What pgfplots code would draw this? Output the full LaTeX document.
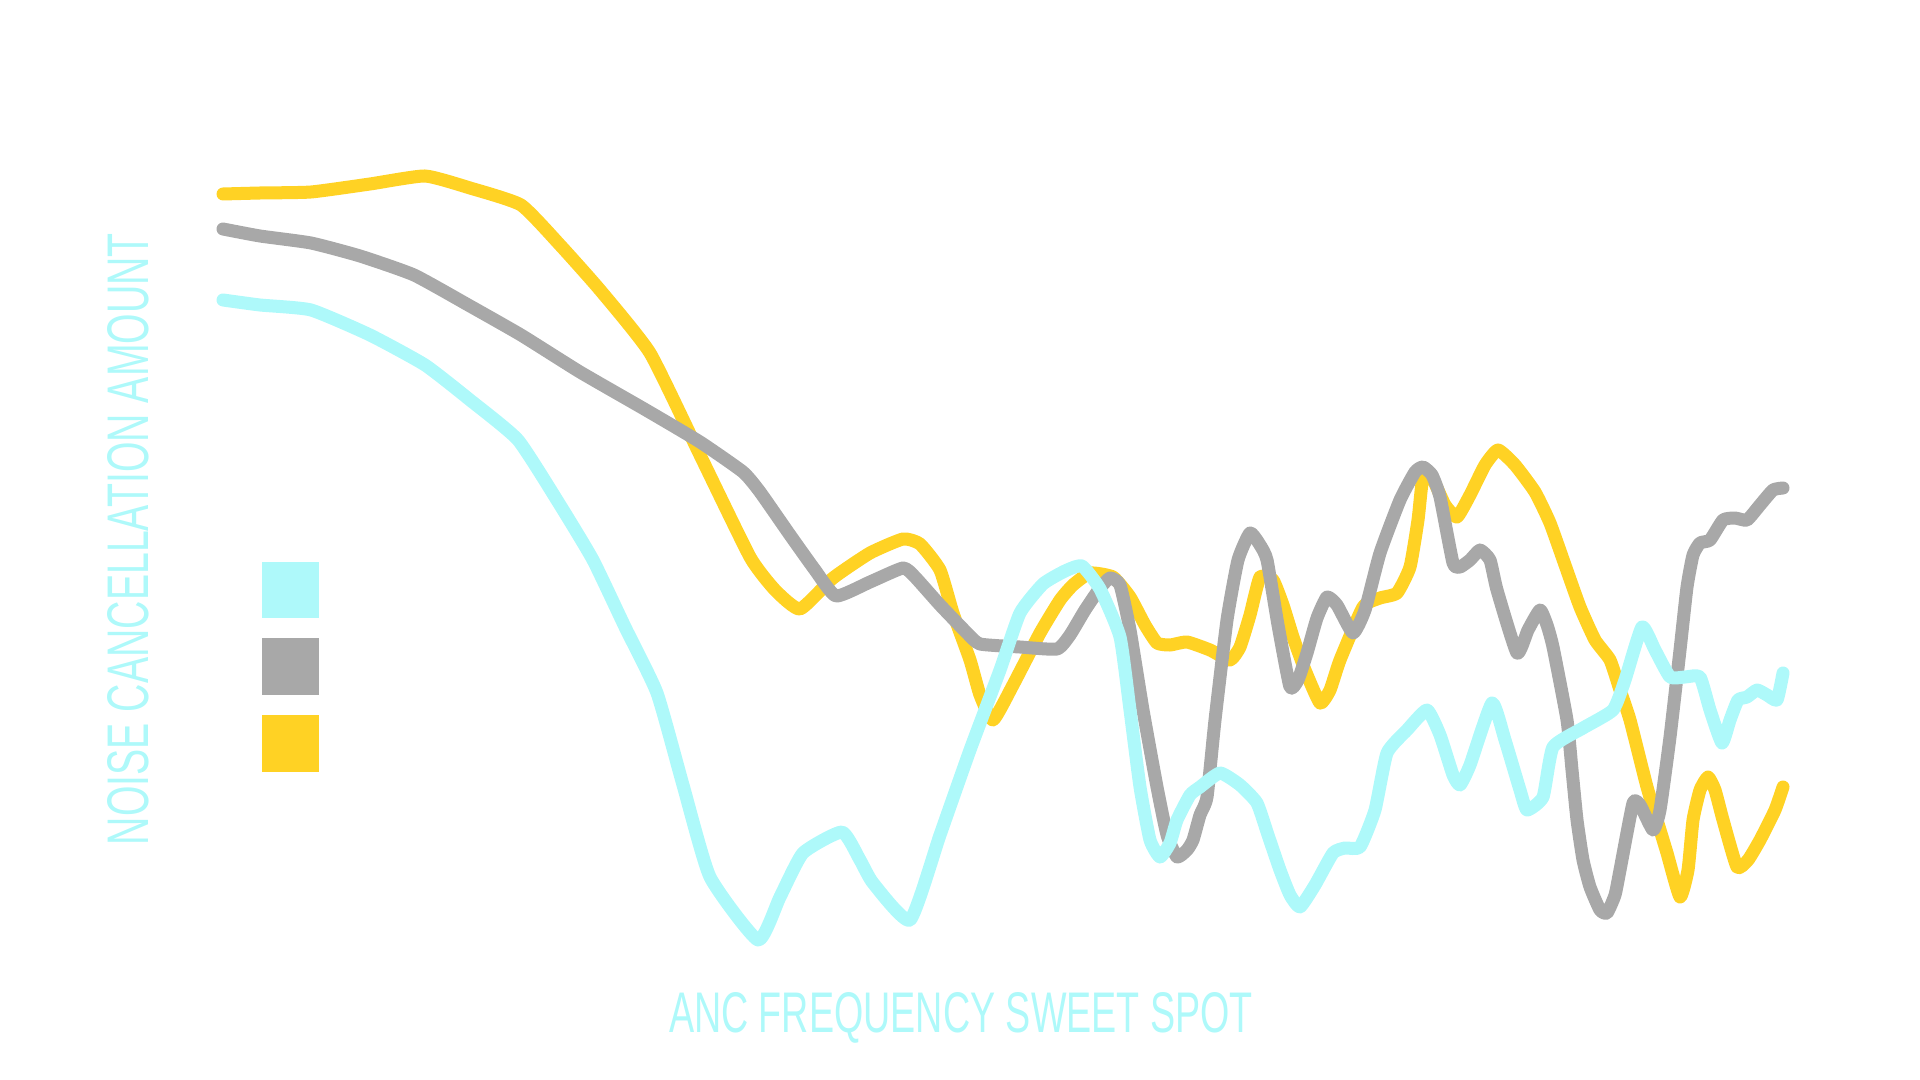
\documentclass[border=0pt]{standalone}
\usepackage{pgfplots}
\usepackage{fontspec}
\setmainfont{Liberation Sans}
\pgfplotsset{compat=1.18}

\definecolor{anccyan}{RGB}{174,249,250}
\definecolor{ancgray}{RGB}{168,168,168}
\definecolor{ancyellow}{RGB}{255,210,36}

% frequency position (px) vs. curve height (px from top)
\pgfplotstableread{
f a
223 194
260 193
311 192
370 184
425 176
470 188
521 205
560 245
600 290
650 353
700 455
750 557
775 590
800 609
833 578
870 553
903 539
920 544
940 570
953 613
970 660
980 695
993 720
1013 685
1040 633
1060 600
1073 585
1090 573
1113 577
1130 597
1145 625
1157 643
1170 645
1187 642
1210 650
1230 660
1240 647
1250 615
1260 577
1273 580
1283 605
1293 637
1305 670
1320 703
1330 690
1340 660
1363 607
1380 598
1397 593
1410 567
1418 520
1423 477
1433 480
1445 505
1457 517
1470 495
1485 465
1498 450
1515 465
1535 492
1550 523
1565 565
1580 607
1595 640
1610 660
1620 690
1630 720
1647 787
1660 830
1667 853
1680 897
1688 870
1693 820
1700 790
1708 777
1715 790
1723 820
1737 867
1748 860
1760 840
1775 810
1783 787
}\yellowdata

\pgfplotstableread{
f a
223 229
260 236
311 243
360 256
414 275
470 306
521 335
580 372
646 410
700 442
743 472
760 492
790 535
815 570
836 596
870 582
903 568
915 577
940 605
967 633
980 644
1020 647
1057 649
1070 635
1085 610
1100 588
1110 578
1120 585
1130 630
1143 710
1157 787
1167 835
1177 857
1187 850
1193 840
1200 815
1207 797
1215 720
1227 620
1238 560
1250 533
1260 545
1267 560
1278 625
1290 687
1298 680
1307 653
1317 618
1327 597
1337 605
1353 633
1365 610
1380 553
1400 500
1415 472
1423 467
1432 475
1440 497
1453 563
1460 567
1470 560
1480 550
1490 560
1497 590
1517 653
1528 630
1540 610
1547 625
1553 647
1567 720
1572 770
1577 820
1583 860
1590 887
1600 910
1607 913
1615 895
1620 870
1633 803
1640 805
1653 830
1660 810
1670 737
1680 650
1687 587
1693 555
1700 543
1710 540
1723 520
1735 518
1747 520
1760 505
1773 490
1783 488
}\graydata

\pgfplotstableread{
f a
223 300
260 305
311 310
370 335
425 365
470 400
518 440
560 505
593 560
625 627
657 693
683 785
710 877
758 940
780 897
803 853
842 832
860 860
873 883
910 920
940 835
970 750
1000 670
1020 613
1043 584
1065 571
1082 566
1100 589
1120 637
1130 710
1140 787
1150 840
1160 857
1170 843
1177 820
1190 795
1200 787
1220 773
1240 785
1257 803
1268 835
1280 870
1290 895
1300 907
1315 885
1333 853
1345 848
1360 847
1375 810
1387 753
1407 730
1427 710
1440 735
1453 775
1460 785
1470 765
1492 703
1505 740
1520 790
1527 810
1543 797
1553 747
1583 728
1613 710
1625 680
1642 627
1655 650
1670 677
1685 677
1700 677
1710 710
1722 743
1730 720
1738 700
1747 697
1757 690
1767 695
1777 700
1783 673
}\cyandata

\begin{document}
\begin{tikzpicture}
\begin{axis}[
    width=192mm, height=108mm,
    scale only axis,
    hide axis,
    clip=false,
    xmin=0, xmax=1920,
    ymin=0, ymax=1080,
    y dir=reverse,
    every axis plot/.append style={
        line width=3.7pt, line cap=round, line join=round,
        smooth, tension=0.3, no markers},
]
\path (axis cs:0,0) rectangle (axis cs:1920,1080);

\addplot[color=ancyellow] table[x=f, y=a] {\yellowdata};
\addplot[color=ancgray] table[x=f, y=a] {\graydata};
\addplot[color=anccyan] table[x=f, y=a] {\cyandata};

% legend swatches (no labels)
\fill[anccyan] (axis cs:262,562) rectangle (axis cs:319,618);
\fill[ancgray] (axis cs:262,638) rectangle (axis cs:319,695);
\fill[ancyellow] (axis cs:262,715) rectangle (axis cs:319,772);

% axis titles
\node[anccyan, inner sep=0pt, rotate=90] at (axis cs:128,539)
    {\resizebox{61.2mm}{4.1mm}{\fontsize{16}{16}\selectfont NOISE CANCELLATION AMOUNT}};
\node[anccyan, inner sep=0pt, anchor=base] at (axis cs:961,1032)
    {\resizebox{58.4mm}{4.0mm}{\fontsize{16}{16}\selectfont ANC FREQUENCY SWEET SPOT}};
\end{axis}
\end{tikzpicture}
\end{document}
